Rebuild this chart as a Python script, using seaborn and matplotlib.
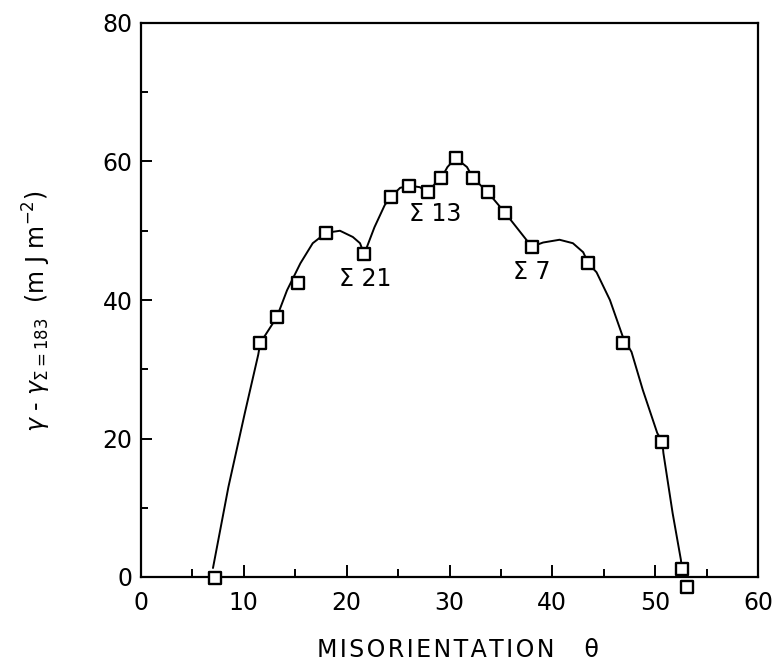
import numpy as np
import pandas as pd
import matplotlib
matplotlib.use("Agg")
import matplotlib.pyplot as plt
from matplotlib.ticker import MultipleLocator
import seaborn as sns

# measured points (misorientation in degrees, energy in mJ/m^2)
theta = [7.2, 11.6, 13.2, 15.3, 18.0, 21.7, 24.3, 26.1, 27.9, 29.2,
         30.6, 32.3, 33.7, 35.4, 38.0, 43.5, 46.9, 50.7, 52.6, 53.1]
energy = [-0.1, 33.8, 37.5, 42.5, 49.7, 46.6, 54.9, 56.5, 55.6, 57.6,
          60.5, 57.6, 55.6, 52.6, 47.7, 45.3, 33.8, 19.5, 1.2, -1.4]

# hand drawn guide curve, in four pieces
curve_a_x = [7.0, 8.5, 10.1, 11.4, 11.6, 13.2, 14.2, 15.5, 16.7, 18.0, 19.35, 20.6, 21.3, 21.7]
curve_a_y = [1.3, 13.0, 23.7, 32.1, 33.8, 37.5, 41.4, 45.3, 48.2, 49.7, 50.0, 49.1, 48.2, 46.6]
curve_b_x = [21.7, 22.7, 23.7, 24.3, 25.2, 26.1, 27.1, 27.9]
curve_b_y = [46.6, 50.5, 53.7, 54.9, 56.2, 56.5, 56.3, 55.6]
curve_c_x = [27.9, 28.6, 29.2, 29.8, 30.6, 31.7, 32.3, 33.7, 35.4, 38.0]
curve_c_y = [55.6, 56.8, 57.6, 59.2, 60.5, 59.2, 57.6, 55.6, 52.6, 47.7]
curve_d_x = [38.0, 39.1, 40.7, 42.0, 43.0, 43.5, 44.3, 45.6, 46.9, 47.7, 48.8,
             50.2, 50.7, 50.8, 51.7, 52.5, 52.6]
curve_d_y = [47.7, 48.3, 48.7, 48.2, 46.9, 45.3, 44.0, 40.0, 34.5, 32.5, 27.0,
             20.8, 19.5, 17.9, 9.2, 2.5, 1.2]

labels = ["Σ 21", "Σ 13", "Σ 7"]
label_x = [21.8, 28.6, 38.0]
label_y = [43.0, 52.4, 44.0]

pts = pd.DataFrame({"theta": theta, "energy": energy})
curve = pd.concat([
    pd.DataFrame({"x": curve_a_x, "y": curve_a_y, "seg": "a"}),
    pd.DataFrame({"x": curve_b_x, "y": curve_b_y, "seg": "b"}),
    pd.DataFrame({"x": curve_c_x, "y": curve_c_y, "seg": "c"}),
    pd.DataFrame({"x": curve_d_x, "y": curve_d_y, "seg": "d"}),
])

sns.set_style("ticks")
plt.rcParams["font.family"] = ["DejaVu Sans"]
plt.rcParams["mathtext.fontset"] = "dejavusans"
for k in ["text.color", "axes.labelcolor", "xtick.color", "ytick.color", "axes.edgecolor"]:
    plt.rcParams[k] = "black"

fig = plt.figure(figsize=(7.75, 6.68), dpi=100)
ax = fig.add_axes([141 / 775, 1 - 577 / 668, 617 / 775, 554 / 668])

sns.lineplot(data=curve, x="x", y="y", units="seg", estimator=None, sort=False,
             color="black", linewidth=1.4, ax=ax, legend=False)
sns.scatterplot(data=pts, x="theta", y="energy", marker="s", s=66,
                facecolor="white", edgecolor="black", linewidth=1.7,
                zorder=3, clip_on=False, ax=ax)

for t, lx, ly in zip(labels, label_x, label_y):
    ax.text(lx, ly, t, fontsize=17, ha="center", va="center")

ax.set_xlim(0, 60)
ax.set_ylim(0, 80)
ax.xaxis.set_major_locator(MultipleLocator(10))
ax.xaxis.set_minor_locator(MultipleLocator(5))
ax.yaxis.set_major_locator(MultipleLocator(20))
ax.yaxis.set_minor_locator(MultipleLocator(10))
ax.tick_params(which="both", direction="in", top=False, right=False,
               width=1.4, labelsize=17)
ax.tick_params(axis="x", which="major", length=9, pad=10)
ax.tick_params(axis="x", which="minor", length=6)
ax.tick_params(axis="y", which="major", length=8, pad=6)
ax.tick_params(axis="y", which="minor", length=5)
for sp in ax.spines.values():
    sp.set_linewidth(1.6)
    sp.set_visible(True)

# letter-spaced axis title like the original
xlab = "\u200a".join("MISORIENTATION") + "    θ"
ax.set_xlabel(xlab, fontsize=17)
ax.xaxis.set_label_coords(0.514, -0.11)
ax.set_ylabel(r"$\gamma$ - $\gamma_{\Sigma=183}$  (m J m$^{-2}$)", fontsize=17)
ax.yaxis.set_label_coords(-0.143, 0.48)

fig.savefig("out.png", dpi=100)
